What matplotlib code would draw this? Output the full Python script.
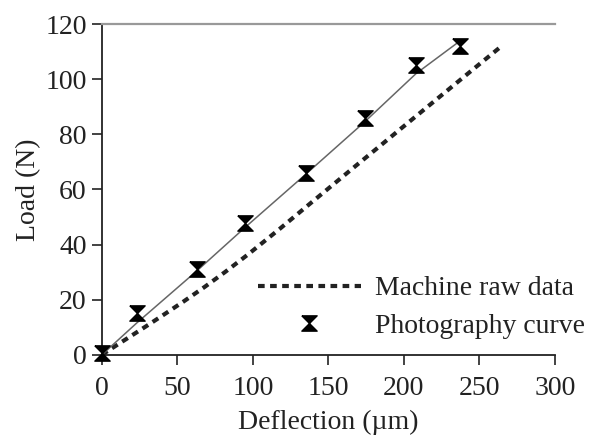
import matplotlib
matplotlib.use('Agg')
from matplotlib import pyplot as plt

# photography curve (measured points)
photo_x = [0, 23, 63, 95, 135, 174, 208, 237]
photo_y = [0.5, 15, 31, 48, 66, 86, 105, 112]

# line drawn through the photography points
fit_x = [0, 23, 63, 95, 135, 174, 208, 235]
fit_y = [0, 11.5, 30.5, 46.3, 65.5, 84.5, 102, 113]

# machine raw data (dashed)
raw_x = [0, 9, 30, 40, 54, 68, 82, 97, 118, 136, 153, 168, 184, 199, 215, 231, 247, 264]
raw_y = [0, 3.2, 10.6, 14.2, 19.3, 24.6, 30.2, 36.5, 45.8, 54, 61.7, 68.5, 75.7, 82.5,
         89.7, 96.9, 104.1, 111.7]

x_ticks = [0, 50, 100, 150, 200, 250, 300]
y_ticks = [0, 20, 40, 60, 80, 100, 120]

plt.rcParams['font.family'] = ['Liberation Serif', 'DejaVu Serif']

# hourglass marker
hourglass = [(-1, 1), (1, 1), (0, 0), (1, -1), (-1, -1), (0, 0), (-1, 1)]

fig = plt.figure(figsize=(5.89, 4.38), dpi=100)
ax = fig.add_axes([0.173, 0.19, 0.769, 0.755])

ax.plot(raw_x, raw_y, color='#222222', lw=3, ls=(0, (1.6, 1.3)), label='Machine raw data')
ax.plot(fit_x, fit_y, color='#666666', lw=1.1)
ax.plot(photo_x, photo_y, ls='none', marker=hourglass, ms=11, color='black',
        label='Photography curve', clip_on=False, zorder=5)

ax.set_xlim(0, 300)
ax.set_ylim(0, 120)
ax.set_xticks(x_ticks)
ax.set_yticks(y_ticks)
ax.tick_params(direction='out', length=7, width=1.2, labelsize=20, colors='#222222')
ax.tick_params(axis='x', pad=8)
ax.tick_params(axis='y', pad=4)
ax.spines['right'].set_visible(False)
ax.spines['top'].set_color('#999999')
ax.spines['top'].set_linewidth(1.6)
for s in ['left', 'bottom']:
    ax.spines[s].set_linewidth(1.3)
    ax.spines[s].set_color('#222222')

ax.set_xlabel('Deflection (\u00b5m)', fontsize=20, color='#222222', labelpad=7)
ax.set_ylabel('Load (N)', fontsize=20, color='#222222', labelpad=3)

leg = ax.legend(loc='upper left', bbox_to_anchor=(0.438, 0.37), bbox_transform=fig.transFigure,
                frameon=False, fontsize=20, handlelength=3.7, handletextpad=0.5,
                borderaxespad=0, borderpad=0, labelspacing=0.44)
for t in leg.get_texts():
    t.set_color('#222222')

fig.savefig('out.png', dpi=100)
